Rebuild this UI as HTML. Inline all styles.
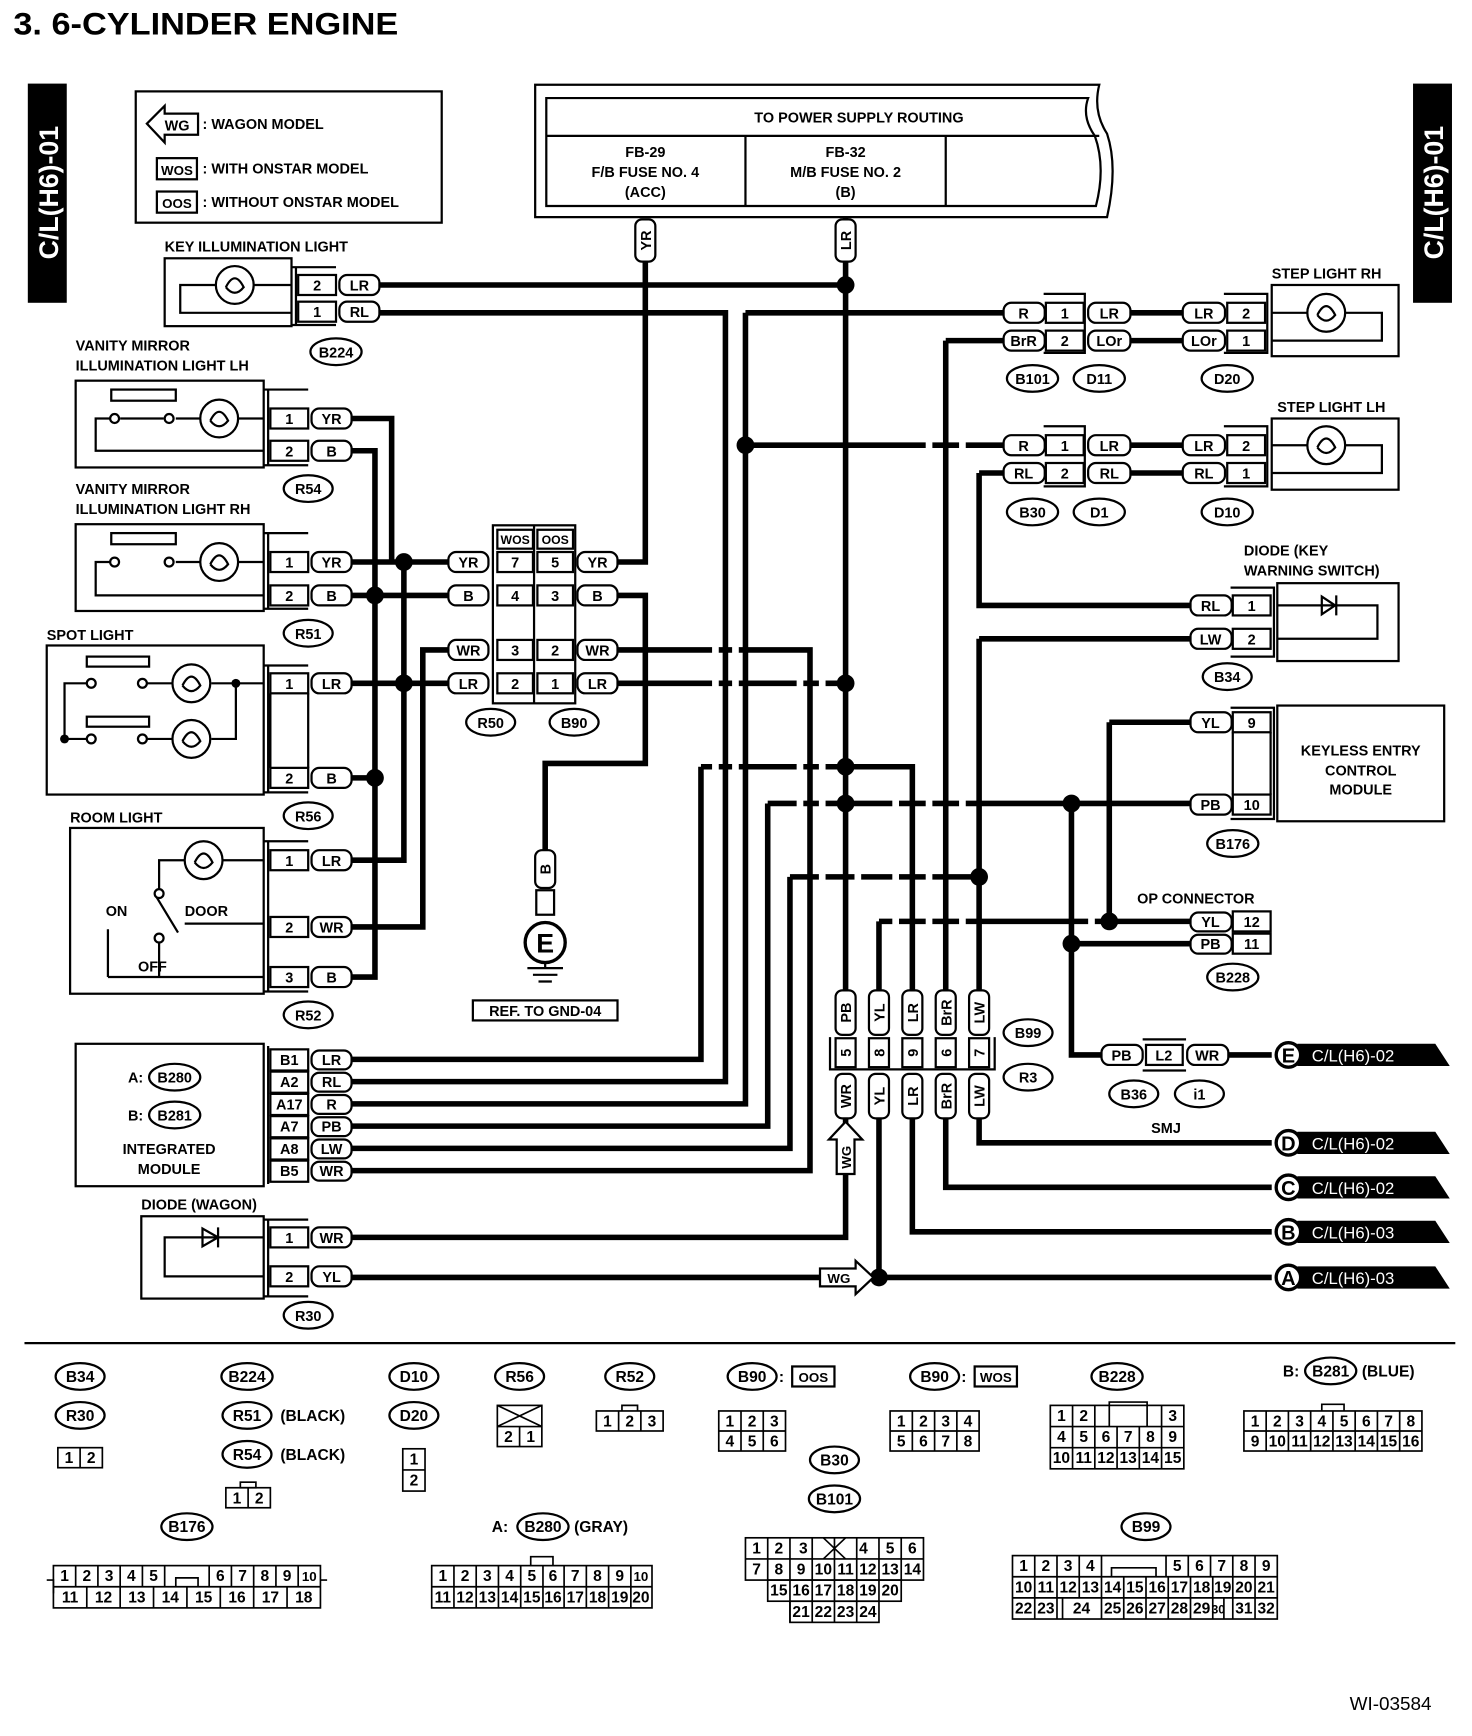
<!DOCTYPE html>
<html><head><meta charset="utf-8"><style>
html,body{margin:0;padding:0;background:#fff}
svg{display:block}
text{font-family:"Liberation Sans",Arial,sans-serif;font-weight:bold;font-size:14px;fill:#000}
.w{fill:none;stroke:#000;stroke-width:5}
.b{fill:#fff;stroke:#000;stroke-width:2}
.n{fill:none;stroke:#000;stroke-width:2}
.g{fill:none;stroke:#000;stroke-width:1.5}
.s{font-size:13px}
.m{text-anchor:middle}
.wt{fill:#fff}
</style></head><body>
<svg width="1472" height="1736" viewBox="0 0 1323 1560" xmlns="http://www.w3.org/2000/svg">
<text x="12" y="31" style="font-size:28px" textLength="346" lengthAdjust="spacingAndGlyphs">3.  6-CYLINDER ENGINE</text>
<!-- side tabs -->
<rect x="25" y="75" width="35" height="197" fill="#000"/>
<text transform="translate(52,173) rotate(-90)" class="m wt" style="font-size:24px">C/L(H6)-01</text>
<rect x="1270" y="75" width="35" height="197" fill="#000"/>
<text transform="translate(1297,173) rotate(-90)" class="m wt" style="font-size:24px">C/L(H6)-01</text>
<!-- legend -->
<rect x="122" y="82" width="275" height="118" class="n"/>
<path d="M132,111 L148,95 V102 H178 V121 H148 V128 Z" class="b"/>
<text x="148" y="117" class="s">WG</text><text x="182" y="116" class="s">: WAGON MODEL</text>
<rect x="141" y="142" width="36" height="19" class="b"/><text x="159" y="157" class="m" style="font-size:12px">WOS</text>
<text x="182" y="156" class="s">: WITH ONSTAR MODEL</text>
<rect x="141" y="172" width="36" height="19" class="b"/><text x="159" y="187" class="m" style="font-size:12px">OOS</text>
<text x="182" y="186" class="s">: WITHOUT ONSTAR MODEL</text>
<!-- power box -->
<path d="M481,76 H988 Q982,100 995,120 Q1005,150 995,195 H481 Z" class="n"/>
<path d="M491,88 H978 Q972,105 984,122 Q994,150 985,185 H491 Z" class="n"/>
<line x1="491" y1="122" x2="988" y2="122" class="n"/>
<line x1="670" y1="122" x2="670" y2="185" class="n"/><line x1="850" y1="122" x2="850" y2="185" class="n"/>
<text x="772" y="110" class="m s">TO POWER SUPPLY ROUTING</text>
<text x="580" y="141" class="m s">FB-29</text><text x="580" y="159" class="m s">F/B FUSE NO. 4</text><text x="580" y="177" class="m s">(ACC)</text>
<text x="760" y="141" class="m s">FB-32</text><text x="760" y="159" class="m s">M/B FUSE NO. 2</text><text x="760" y="177" class="m s">(B)</text>

<!-- WIRES -->
<g class="w">
<path d="M340,256 H760"/><path d="M760,195 V892"/>
<path d="M340,281 H652 V972 H315"/>
<path d="M670,281 H905"/><path d="M670,281 V992 H315"/><path d="M670,400 H905"/>
<path d="M850,306 H905"/><path d="M850,306 V892"/>
<path d="M880,425 H905"/><path d="M880,425 V544 H1072"/>
<path d="M880,574 H1072"/><path d="M880,574 V892"/>
<path d="M315,376 H352 V505"/><path d="M315,505 H403"/><path d="M363,505 V773 H315"/>
<path d="M315,405 H337 V878 H315"/><path d="M315,535 H403"/><path d="M315,699 H337"/>
<path d="M315,614 H403"/><path d="M315,833 H380 V584 H403"/>
<path d="M554,505 H580 V197"/><path d="M554,535 H580 V686 H490 V764"/>
<path d="M554,584 H728 V1052 H315"/><path d="M554,614 H760"/>
<path d="M630,689 H820 V892"/><path d="M630,689 V952 H315"/>
<path d="M690,722 H1072"/><path d="M690,722 V1012 H315"/>
<path d="M710,788 H880"/><path d="M710,788 V1032 H315"/>
<path d="M790,828 H1072"/><path d="M790,828 V892"/>
<path d="M997,649 H1072"/><path d="M997,649 V828"/>
<path d="M963,722 V948 H990"/><path d="M963,848 H1072"/>
<path d="M760,1005 V1112 H315"/><path d="M790,1005 V1148"/><path d="M315,1148 H1143"/>
<path d="M820,1005 V1107 H1143"/><path d="M850,1005 V1067 H1143"/><path d="M880,1005 V1027 H1143"/>
<path d="M1104,948 H1143"/>
<path d="M1014,281 H1063"/><path d="M1014,306 H1063"/><path d="M1014,400 H1063"/><path d="M1014,425 H1063"/>
</g>
<!-- crossing gaps -->
<g fill="#fff">
<rect x="640" y="580" width="6" height="8"/><rect x="658" y="580" width="6" height="8"/>
<rect x="640" y="610" width="6" height="8"/><rect x="658" y="610" width="6" height="8"/><rect x="716" y="610" width="6" height="8"/><rect x="736" y="610" width="6" height="8"/>
<rect x="640" y="685" width="6" height="8"/><rect x="658" y="685" width="6" height="8"/><rect x="716" y="685" width="6" height="8"/><rect x="736" y="685" width="6" height="8"/>
<rect x="716" y="718" width="6" height="8"/><rect x="736" y="718" width="6" height="8"/><rect x="802" y="718" width="6" height="8"/><rect x="832" y="718" width="6" height="8"/><rect x="862" y="718" width="6" height="8"/>
<rect x="736" y="784" width="6" height="8"/><rect x="768" y="784" width="6" height="8"/><rect x="802" y="784" width="6" height="8"/><rect x="832" y="784" width="6" height="8"/>
<rect x="802" y="824" width="6" height="8"/><rect x="832" y="824" width="6" height="8"/><rect x="862" y="824" width="6" height="8"/><rect x="978" y="824" width="6" height="8"/>
<rect x="832" y="396" width="6" height="8"/><rect x="862" y="396" width="6" height="8"/>
</g>
<g fill="#000">
<circle cx="760" cy="256" r="8"/><circle cx="363" cy="505" r="8"/><circle cx="337" cy="535" r="8"/><circle cx="363" cy="614" r="8"/><circle cx="337" cy="699" r="8"/>
<circle cx="760" cy="614" r="8"/><circle cx="760" cy="689" r="8"/><circle cx="760" cy="722" r="8"/><circle cx="670" cy="400" r="8"/><circle cx="880" cy="788" r="8"/>
<circle cx="963" cy="722" r="8"/><circle cx="963" cy="848" r="8"/><circle cx="997" cy="828" r="8"/><circle cx="790" cy="1148" r="8"/>
</g>
<!-- vertical tags YR / LR -->
<rect x="571" y="197" width="18" height="38" rx="6" class="b"/><text transform="translate(585,216) rotate(-90)" class="m s">YR</text>
<rect x="751" y="197" width="18" height="38" rx="6" class="b"/><text transform="translate(765,216) rotate(-90)" class="m s">LR</text>

<!-- KEY ILLUMINATION -->
<text x="148" y="226" class="s">KEY ILLUMINATION LIGHT</text>
<rect x="148" y="232" width="114" height="61" class="n"/>
<path d="M262,256 H162 V281 H262" class="n"/><circle cx="211" cy="256" r="17" class="b"/><path d="M203,258 q8,-16 16,0 q-8,10 -16,0" class="n"/>
<path d="M262,240 H302 M262,292 H302 M266,240 V292" class="n"/>
<rect x="268" y="247" width="34" height="18" class="b"/><text x="285" y="261" class="m s">2</text>
<rect x="268" y="271" width="34" height="18" class="b"/><text x="285" y="285" class="m s">1</text>
<rect x="305" y="247" width="36" height="18" rx="7" class="b"/><text x="323" y="261" class="m s">LR</text>
<rect x="305" y="271" width="36" height="18" rx="7" class="b"/><text x="323" y="285" class="m s">RL</text>
<ellipse cx="302" cy="316" rx="23" ry="12" class="b"/><text x="302" y="321" class="m s">B224</text>

<!-- VANITY LH -->
<text x="68" y="315" class="s">VANITY MIRROR</text><text x="68" y="333" class="s">ILLUMINATION LIGHT LH</text>
<rect x="68" y="342" width="169" height="78" class="n"/>
<rect x="100" y="350" width="58" height="10" class="n"/>
<path d="M237,376 H214 M180,376 H158 M147,376 L108,376 M102,376 H86 V405 H237" class="n"/>
<circle cx="103" cy="376" r="4" class="b"/><circle cx="152" cy="376" r="4" class="b"/>
<circle cx="197" cy="376" r="17" class="b"/><path d="M189,378 q8,-16 16,0 q-8,10 -16,0" class="n"/>
<path d="M237,350 H277 M237,418 H277 M241,350 V418" class="n"/>
<rect x="243" y="367" width="34" height="18" class="b"/><text x="260" y="381" class="m s">1</text>
<rect x="243" y="396" width="34" height="18" class="b"/><text x="260" y="410" class="m s">2</text>
<rect x="280" y="367" width="36" height="18" rx="7" class="b"/><text x="298" y="381" class="m s">YR</text>
<rect x="280" y="396" width="36" height="18" rx="7" class="b"/><text x="298" y="410" class="m s">B</text>
<ellipse cx="277" cy="439" rx="22" ry="12" class="b"/><text x="277" y="444" class="m s">R54</text>

<!-- VANITY RH -->
<text x="68" y="444" class="s">VANITY MIRROR</text><text x="68" y="462" class="s">ILLUMINATION LIGHT RH</text>
<rect x="68" y="471" width="169" height="78" class="n"/>
<rect x="100" y="479" width="58" height="10" class="n"/>
<path d="M237,505 H214 M180,505 H158 M102,505 H86 V535 H237" class="n"/>
<circle cx="103" cy="505" r="4" class="b"/><circle cx="152" cy="505" r="4" class="b"/>
<circle cx="197" cy="505" r="17" class="b"/><path d="M189,507 q8,-16 16,0 q-8,10 -16,0" class="n"/>
<path d="M237,479 H277 M237,547 H277 M241,479 V547" class="n"/>
<rect x="243" y="496" width="34" height="18" class="b"/><text x="260" y="510" class="m s">1</text>
<rect x="243" y="526" width="34" height="18" class="b"/><text x="260" y="540" class="m s">2</text>
<rect x="280" y="496" width="36" height="18" rx="7" class="b"/><text x="298" y="510" class="m s">YR</text>
<rect x="280" y="526" width="36" height="18" rx="7" class="b"/><text x="298" y="540" class="m s">B</text>
<ellipse cx="277" cy="569" rx="22" ry="12" class="b"/><text x="277" y="574" class="m s">R51</text>

<!-- SPOT LIGHT -->
<text x="42" y="575" class="s">SPOT LIGHT</text>
<rect x="42" y="580" width="195" height="134" class="n"/>
<rect x="78" y="590" width="56" height="9" class="n"/><rect x="78" y="644" width="56" height="9" class="n"/>
<path d="M237,614 H212 V664 H190 M155,664 H132 M82,614 H58 V664 H82 M155,614 H132 M190,614 H237" class="n"/>
<circle cx="82" cy="614" r="4" class="b"/><circle cx="128" cy="614" r="4" class="b"/><circle cx="82" cy="664" r="4" class="b"/><circle cx="128" cy="664" r="4" class="b"/>
<circle cx="58" cy="664" r="4" fill="#000"/><circle cx="212" cy="614" r="4" fill="#000"/>
<circle cx="172" cy="614" r="17" class="b"/><path d="M164,616 q8,-16 16,0 q-8,10 -16,0" class="n"/>
<circle cx="172" cy="664" r="17" class="b"/><path d="M164,666 q8,-16 16,0 q-8,10 -16,0" class="n"/>
<path d="M237,598 H277 M237,712 H277 M241,598 V712 M243,623 V690 M277,623 V690" class="n"/>
<rect x="243" y="605" width="34" height="18" class="b"/><text x="260" y="619" class="m s">1</text>
<rect x="243" y="690" width="34" height="18" class="b"/><text x="260" y="704" class="m s">2</text>
<rect x="280" y="605" width="36" height="18" rx="7" class="b"/><text x="298" y="619" class="m s">LR</text>
<rect x="280" y="690" width="36" height="18" rx="7" class="b"/><text x="298" y="704" class="m s">B</text>
<ellipse cx="277" cy="733" rx="22" ry="12" class="b"/><text x="277" y="738" class="m s">R56</text>

<!-- ROOM LIGHT -->
<text x="63" y="739" class="s">ROOM LIGHT</text>
<rect x="63" y="744" width="174" height="149" class="n"/>
<path d="M237,773 H200 M166,773 H143 V800 M140,805 L160,838 M166,830 H237 M143,842 V878 M97,878 H237 M97,878 V835" class="n"/>
<circle cx="143" cy="803" r="4" class="b"/><circle cx="143" cy="843" r="4" class="b"/>
<circle cx="183" cy="773" r="17" class="b"/><path d="M175,775 q8,-16 16,0 q-8,10 -16,0" class="n"/>
<text x="95" y="823" class="s">ON</text><text x="166" y="823" class="s">DOOR</text><text x="124" y="873" class="s">OFF</text>
<path d="M237,756 H277 M237,891 H277 M241,756 V891" class="n"/>
<rect x="243" y="764" width="34" height="18" class="b"/><text x="260" y="778" class="m s">1</text>
<rect x="243" y="824" width="34" height="18" class="b"/><text x="260" y="838" class="m s">2</text>
<rect x="243" y="869" width="34" height="18" class="b"/><text x="260" y="883" class="m s">3</text>
<rect x="280" y="764" width="36" height="18" rx="7" class="b"/><text x="298" y="778" class="m s">LR</text>
<rect x="280" y="824" width="36" height="18" rx="7" class="b"/><text x="298" y="838" class="m s">WR</text>
<rect x="280" y="869" width="36" height="18" rx="7" class="b"/><text x="298" y="883" class="m s">B</text>
<ellipse cx="277" cy="912" rx="22" ry="12" class="b"/><text x="277" y="917" class="m s">R52</text>

<!-- INTEGRATED MODULE -->
<rect x="68" y="938" width="169" height="128" class="n"/>
<text x="115" y="973" class="s">A:</text><ellipse cx="157" cy="968" rx="23" ry="12" class="b"/><text x="157" y="973" class="m s">B280</text>
<text x="115" y="1007" class="s">B:</text><ellipse cx="157" cy="1002" rx="23" ry="12" class="b"/><text x="157" y="1007" class="m s">B281</text>
<text x="152" y="1037" class="m s">INTEGRATED</text><text x="152" y="1055" class="m s">MODULE</text>
<path d="M241,940 V1064" class="n"/>
<g>
<rect x="243" y="943" width="34" height="19" class="b"/><text x="260" y="957" class="m s">B1</text>
<rect x="243" y="963" width="34" height="19" class="b"/><text x="260" y="977" class="m s">A2</text>
<rect x="243" y="983" width="34" height="19" class="b"/><text x="260" y="997" class="m s">A17</text>
<rect x="243" y="1003" width="34" height="19" class="b"/><text x="260" y="1017" class="m s">A7</text>
<rect x="243" y="1023" width="34" height="19" class="b"/><text x="260" y="1037" class="m s">A8</text>
<rect x="243" y="1043" width="34" height="19" class="b"/><text x="260" y="1057" class="m s">B5</text>
<rect x="280" y="944" width="36" height="17" rx="7" class="b"/><text x="298" y="957" class="m s">LR</text>
<rect x="280" y="964" width="36" height="17" rx="7" class="b"/><text x="298" y="977" class="m s">RL</text>
<rect x="280" y="984" width="36" height="17" rx="7" class="b"/><text x="298" y="997" class="m s">R</text>
<rect x="280" y="1004" width="36" height="17" rx="7" class="b"/><text x="298" y="1017" class="m s">PB</text>
<rect x="280" y="1024" width="36" height="17" rx="7" class="b"/><text x="298" y="1037" class="m s">LW</text>
<rect x="280" y="1044" width="36" height="17" rx="7" class="b"/><text x="298" y="1057" class="m s">WR</text>
</g>

<!-- DIODE WAGON -->
<text x="127" y="1087" class="s">DIODE (WAGON)</text>
<rect x="127" y="1093" width="110" height="74" class="n"/>
<path d="M237,1112 H148 V1147 H237" class="n"/><path d="M196,1103 V1121 M196,1112 L182,1104 V1120 Z" fill="#000" class="n"/>
<path d="M237,1096 H277 M237,1165 H277 M241,1096 V1165" class="n"/>
<rect x="243" y="1103" width="34" height="18" class="b"/><text x="260" y="1117" class="m s">1</text>
<rect x="243" y="1138" width="34" height="18" class="b"/><text x="260" y="1152" class="m s">2</text>
<rect x="280" y="1103" width="36" height="18" rx="7" class="b"/><text x="298" y="1117" class="m s">WR</text>
<rect x="280" y="1138" width="36" height="18" rx="7" class="b"/><text x="298" y="1152" class="m s">YL</text>
<ellipse cx="277" cy="1182" rx="22" ry="12" class="b"/><text x="277" y="1187" class="m s">R30</text>

<!-- B90/R50 -->
<rect x="443" y="472" width="74" height="160" class="n"/>
<line x1="480" y1="472" x2="480" y2="632" class="n"/>
<rect x="447" y="476" width="32" height="17" class="b"/><text x="463" y="489" class="m" style="font-size:11px">WOS</text>
<rect x="483" y="476" width="32" height="17" class="b"/><text x="499" y="489" class="m" style="font-size:11px">OOS</text>
<rect x="447" y="496" width="32" height="18" class="b"/><text x="463" y="510" class="m s">7</text>
<rect x="483" y="496" width="32" height="18" class="b"/><text x="499" y="510" class="m s">5</text>
<rect x="447" y="526" width="32" height="18" class="b"/><text x="463" y="540" class="m s">4</text>
<rect x="483" y="526" width="32" height="18" class="b"/><text x="499" y="540" class="m s">3</text>
<rect x="447" y="575" width="32" height="18" class="b"/><text x="463" y="589" class="m s">3</text>
<rect x="483" y="575" width="32" height="18" class="b"/><text x="499" y="589" class="m s">2</text>
<rect x="447" y="605" width="32" height="18" class="b"/><text x="463" y="619" class="m s">2</text>
<rect x="483" y="605" width="32" height="18" class="b"/><text x="499" y="619" class="m s">1</text>
<rect x="403" y="496" width="36" height="18" rx="7" class="b"/><text x="421" y="510" class="m s">YR</text>
<rect x="403" y="526" width="36" height="18" rx="7" class="b"/><text x="421" y="540" class="m s">B</text>
<rect x="403" y="575" width="36" height="18" rx="7" class="b"/><text x="421" y="589" class="m s">WR</text>
<rect x="403" y="605" width="36" height="18" rx="7" class="b"/><text x="421" y="619" class="m s">LR</text>
<rect x="519" y="496" width="36" height="18" rx="7" class="b"/><text x="537" y="510" class="m s">YR</text>
<rect x="519" y="526" width="36" height="18" rx="7" class="b"/><text x="537" y="540" class="m s">B</text>
<rect x="519" y="575" width="36" height="18" rx="7" class="b"/><text x="537" y="589" class="m s">WR</text>
<rect x="519" y="605" width="36" height="18" rx="7" class="b"/><text x="537" y="619" class="m s">LR</text>
<ellipse cx="441" cy="649" rx="22" ry="12" class="b"/><text x="441" y="654" class="m s">R50</text>
<ellipse cx="516" cy="649" rx="22" ry="12" class="b"/><text x="516" y="654" class="m s">B90</text>

<!-- ground -->
<rect x="481" y="764" width="18" height="34" rx="6" class="b"/><text transform="translate(495,781) rotate(-90)" class="m s">B</text>
<rect x="482" y="800" width="16" height="22" class="b"/>
<circle cx="490" cy="847" r="18" class="b" style="stroke-width:3"/><text x="490" y="856" class="m" style="font-size:24px">E</text>
<path d="M490,865 V870 M474,870 H506 M479,876 H501 M484,882 H496" class="n"/>
<rect x="425" y="899" width="130" height="18" class="b"/><text x="490" y="913" class="m s">REF. TO GND-04</text>

<!-- B99 / R3 -->
<g>
<rect x="751" y="890" width="18" height="40" rx="6" class="b"/><text transform="translate(765,910) rotate(-90)" class="m s">PB</text>
<rect x="781" y="890" width="18" height="40" rx="6" class="b"/><text transform="translate(795,910) rotate(-90)" class="m s">YL</text>
<rect x="811" y="890" width="18" height="40" rx="6" class="b"/><text transform="translate(825,910) rotate(-90)" class="m s">LR</text>
<rect x="841" y="890" width="18" height="40" rx="6" class="b"/><text transform="translate(855,910) rotate(-90)" class="m s">BrR</text>
<rect x="871" y="890" width="18" height="40" rx="6" class="b"/><text transform="translate(885,910) rotate(-90)" class="m s">LW</text>
<path d="M746,932 V961 H894 V932" class="n"/>
<rect x="751" y="933" width="18" height="26" class="b"/><text transform="translate(765,946) rotate(-90)" class="m s">5</text>
<rect x="781" y="933" width="18" height="26" class="b"/><text transform="translate(795,946) rotate(-90)" class="m s">8</text>
<rect x="811" y="933" width="18" height="26" class="b"/><text transform="translate(825,946) rotate(-90)" class="m s">9</text>
<rect x="841" y="933" width="18" height="26" class="b"/><text transform="translate(855,946) rotate(-90)" class="m s">6</text>
<rect x="871" y="933" width="18" height="26" class="b"/><text transform="translate(885,946) rotate(-90)" class="m s">7</text>
<rect x="751" y="965" width="18" height="40" rx="6" class="b"/><text transform="translate(765,985) rotate(-90)" class="m s">WR</text>
<rect x="781" y="965" width="18" height="40" rx="6" class="b"/><text transform="translate(795,985) rotate(-90)" class="m s">YL</text>
<rect x="811" y="965" width="18" height="40" rx="6" class="b"/><text transform="translate(825,985) rotate(-90)" class="m s">LR</text>
<rect x="841" y="965" width="18" height="40" rx="6" class="b"/><text transform="translate(855,985) rotate(-90)" class="m s">BrR</text>
<rect x="871" y="965" width="18" height="40" rx="6" class="b"/><text transform="translate(885,985) rotate(-90)" class="m s">LW</text>
</g>
<ellipse cx="924" cy="928" rx="22" ry="12" class="b"/><text x="924" y="933" class="m s">B99</text>
<ellipse cx="924" cy="968" rx="22" ry="12" class="b"/><text x="924" y="973" class="m s">R3</text>
<path d="M760,1008 L775,1024 H768 V1055 H752 V1024 H745 Z" class="b"/><text transform="translate(765,1040) rotate(-90)" class="m" style="font-size:12px">WG</text>
<path d="M785,1148 L769,1133 V1140 H737 V1156 H769 V1163 Z" class="b"/><text x="754" y="1153" class="m" style="font-size:12px">WG</text>

<!-- STEP LIGHT RH -->
<text x="1143" y="250" class="s">STEP LIGHT RH</text>
<rect x="1143" y="256" width="114" height="64" class="n"/>
<path d="M1143,281 H1242 V306 H1143" class="n"/><circle cx="1192" cy="281" r="17" class="b"/><path d="M1184,283 q8,-16 16,0 q-8,10 -16,0" class="n"/>
<path d="M1100,264 H1140 M1100,317 H1140 M1139,264 V317" class="n"/>
<rect x="1103" y="272" width="34" height="18" class="b"/><text x="1120" y="286" class="m s">2</text>
<rect x="1103" y="297" width="34" height="18" class="b"/><text x="1120" y="311" class="m s">1</text>
<rect x="1063" y="272" width="38" height="18" rx="7" class="b"/><text x="1082" y="286" class="m s">LR</text>
<rect x="1063" y="297" width="38" height="18" rx="7" class="b"/><text x="1082" y="311" class="m s">LOr</text>
<path d="M938,264 H976 M938,317 H976 M975,264 V317" class="n"/>
<rect x="940" y="272" width="34" height="18" class="b"/><text x="957" y="286" class="m s">1</text>
<rect x="940" y="297" width="34" height="18" class="b"/><text x="957" y="311" class="m s">2</text>
<rect x="902" y="272" width="37" height="18" rx="7" class="b"/><text x="920" y="286" class="m s">R</text>
<rect x="902" y="297" width="37" height="18" rx="7" class="b"/><text x="920" y="311" class="m s">BrR</text>
<rect x="978" y="272" width="38" height="18" rx="7" class="b"/><text x="997" y="286" class="m s">LR</text>
<rect x="978" y="297" width="38" height="18" rx="7" class="b"/><text x="997" y="311" class="m s">LOr</text>
<ellipse cx="928" cy="340" rx="23" ry="12" class="b"/><text x="928" y="345" class="m s">B101</text>
<ellipse cx="988" cy="340" rx="23" ry="12" class="b"/><text x="988" y="345" class="m s">D11</text>
<ellipse cx="1103" cy="340" rx="23" ry="12" class="b"/><text x="1103" y="345" class="m s">D20</text>

<!-- STEP LIGHT LH -->
<text x="1148" y="370" class="s">STEP LIGHT LH</text>
<rect x="1143" y="376" width="114" height="64" class="n"/>
<path d="M1143,400 H1242 V425 H1143" class="n"/><circle cx="1192" cy="400" r="17" class="b"/><path d="M1184,402 q8,-16 16,0 q-8,10 -16,0" class="n"/>
<path d="M1100,383 H1140 M1100,437 H1140 M1139,383 V437" class="n"/>
<rect x="1103" y="391" width="34" height="18" class="b"/><text x="1120" y="405" class="m s">2</text>
<rect x="1103" y="416" width="34" height="18" class="b"/><text x="1120" y="430" class="m s">1</text>
<rect x="1063" y="391" width="38" height="18" rx="7" class="b"/><text x="1082" y="405" class="m s">LR</text>
<rect x="1063" y="416" width="38" height="18" rx="7" class="b"/><text x="1082" y="430" class="m s">RL</text>
<path d="M938,383 H976 M938,437 H976 M975,383 V437" class="n"/>
<rect x="940" y="391" width="34" height="18" class="b"/><text x="957" y="405" class="m s">1</text>
<rect x="940" y="416" width="34" height="18" class="b"/><text x="957" y="430" class="m s">2</text>
<rect x="902" y="391" width="37" height="18" rx="7" class="b"/><text x="920" y="405" class="m s">R</text>
<rect x="902" y="416" width="37" height="18" rx="7" class="b"/><text x="920" y="430" class="m s">RL</text>
<rect x="978" y="391" width="38" height="18" rx="7" class="b"/><text x="997" y="405" class="m s">LR</text>
<rect x="978" y="416" width="38" height="18" rx="7" class="b"/><text x="997" y="430" class="m s">RL</text>
<ellipse cx="928" cy="460" rx="23" ry="12" class="b"/><text x="928" y="465" class="m s">B30</text>
<ellipse cx="988" cy="460" rx="23" ry="12" class="b"/><text x="988" y="465" class="m s">D1</text>
<ellipse cx="1103" cy="460" rx="23" ry="12" class="b"/><text x="1103" y="465" class="m s">D10</text>

<!-- DIODE KEY -->
<text x="1118" y="499" class="s">DIODE (KEY</text><text x="1118" y="517" class="s">WARNING SWITCH)</text>
<rect x="1148" y="524" width="109" height="70" class="n"/>
<path d="M1148,544 H1238 V574 H1148" class="n"/><path d="M1188,536 L1200,544 L1188,552 Z M1201,535 V553" fill="#000" class="n"/>
<path d="M1106,528 H1146 M1106,590 H1146 M1145,528 V590" class="n"/>
<rect x="1108" y="535" width="34" height="18" class="b"/><text x="1125" y="549" class="m s">1</text>
<rect x="1108" y="565" width="34" height="18" class="b"/><text x="1125" y="579" class="m s">2</text>
<rect x="1070" y="535" width="37" height="18" rx="7" class="b"/><text x="1088" y="549" class="m s">RL</text>
<rect x="1070" y="565" width="37" height="18" rx="7" class="b"/><text x="1088" y="579" class="m s">LW</text>
<ellipse cx="1103" cy="608" rx="22" ry="12" class="b"/><text x="1103" y="613" class="m s">B34</text>

<!-- KEYLESS -->
<rect x="1148" y="634" width="150" height="104" class="n"/>
<text x="1223" y="679" class="m s">KEYLESS ENTRY</text><text x="1223" y="697" class="m s">CONTROL</text><text x="1223" y="714" class="m s">MODULE</text>
<path d="M1106,636 H1146 M1106,736 H1146 M1145,636 V736 M1108,658 V714 M1142,658 V714" class="n"/>
<rect x="1108" y="640" width="34" height="18" class="b"/><text x="1125" y="654" class="m s">9</text>
<rect x="1108" y="714" width="34" height="18" class="b"/><text x="1125" y="728" class="m s">10</text>
<rect x="1070" y="640" width="37" height="18" rx="7" class="b"/><text x="1088" y="654" class="m s">YL</text>
<rect x="1070" y="714" width="37" height="18" rx="7" class="b"/><text x="1088" y="728" class="m s">PB</text>
<ellipse cx="1108" cy="758" rx="23" ry="12" class="b"/><text x="1108" y="763" class="m s">B176</text>

<!-- OP connector -->
<text x="1022" y="812" class="s">OP CONNECTOR</text>
<rect x="1108" y="819" width="34" height="18" class="b"/><text x="1125" y="833" class="m s">12</text>
<rect x="1108" y="839" width="34" height="18" class="b"/><text x="1125" y="853" class="m s">11</text>
<rect x="1070" y="820" width="37" height="17" rx="7" class="b"/><text x="1088" y="833" class="m s">YL</text>
<rect x="1070" y="840" width="37" height="17" rx="7" class="b"/><text x="1088" y="853" class="m s">PB</text>
<ellipse cx="1108" cy="878" rx="23" ry="12" class="b"/><text x="1108" y="883" class="m s">B228</text>

<!-- SMJ -->
<rect x="990" y="939" width="37" height="18" rx="7" class="b"/><text x="1008" y="953" class="m s">PB</text>
<path d="M1027,934 H1066 M1027,962 H1066" class="n"/>
<rect x="1030" y="939" width="33" height="18" class="b"/><text x="1046" y="953" class="m s">L2</text>
<rect x="1067" y="939" width="37" height="18" rx="7" class="b"/><text x="1085" y="953" class="m s">WR</text>
<ellipse cx="1019" cy="983" rx="22" ry="12" class="b"/><text x="1019" y="988" class="m s">B36</text>
<ellipse cx="1078" cy="983" rx="22" ry="12" class="b"/><text x="1078" y="988" class="m s">i1</text>
<text x="1048" y="1018" class="m s">SMJ</text>

<!-- output arrows -->
<g>
<path d="M1166,938 H1290 L1303,958 H1166 Z" fill="#000"/><circle cx="1158" cy="948" r="11" class="b" style="stroke-width:3"/><text x="1158" y="955" class="m" style="font-size:18px">E</text><text x="1179" y="954" class="wt" style="font-size:15px;font-weight:normal">C/L(H6)-02</text>
<path d="M1166,1017 H1290 L1303,1037 H1166 Z" fill="#000"/><circle cx="1158" cy="1027" r="11" class="b" style="stroke-width:3"/><text x="1158" y="1034" class="m" style="font-size:18px">D</text><text x="1179" y="1033" class="wt" style="font-size:15px;font-weight:normal">C/L(H6)-02</text>
<path d="M1166,1057 H1290 L1303,1077 H1166 Z" fill="#000"/><circle cx="1158" cy="1067" r="11" class="b" style="stroke-width:3"/><text x="1158" y="1074" class="m" style="font-size:18px">C</text><text x="1179" y="1073" class="wt" style="font-size:15px;font-weight:normal">C/L(H6)-02</text>
<path d="M1166,1097 H1290 L1303,1117 H1166 Z" fill="#000"/><circle cx="1158" cy="1107" r="11" class="b" style="stroke-width:3"/><text x="1158" y="1114" class="m" style="font-size:18px">B</text><text x="1179" y="1113" class="wt" style="font-size:15px;font-weight:normal">C/L(H6)-03</text>
<path d="M1166,1138 H1290 L1303,1158 H1166 Z" fill="#000"/><circle cx="1158" cy="1148" r="11" class="b" style="stroke-width:3"/><text x="1158" y="1155" class="m" style="font-size:18px">A</text><text x="1179" y="1154" class="wt" style="font-size:15px;font-weight:normal">C/L(H6)-03</text>
</g>

<line x1="22" y1="1207" x2="1308" y2="1207" stroke="#000" stroke-width="2"/>

<!-- CONNECTOR VIEWS -->
<g class="s">
<ellipse cx="72" cy="1237" rx="22" ry="12" class="b"/><text x="72" y="1242" class="m">B34</text>
<ellipse cx="72" cy="1272" rx="22" ry="12" class="b"/><text x="72" y="1277" class="m">R30</text>
<rect x="52" y="1301" width="40" height="18" class="g"/><line x1="72" y1="1301" x2="72" y2="1319" class="g"/><text x="62" y="1315" class="m">1</text><text x="82" y="1315" class="m">2</text>

<ellipse cx="222" cy="1237" rx="23" ry="12" class="b"/><text x="222" y="1242" class="m">B224</text>
<ellipse cx="222" cy="1272" rx="22" ry="12" class="b"/><text x="222" y="1277" class="m">R51</text><text x="252" y="1277">(BLACK)</text>
<ellipse cx="222" cy="1307" rx="22" ry="12" class="b"/><text x="222" y="1312" class="m">R54</text><text x="252" y="1312">(BLACK)</text>
<rect x="203" y="1337" width="40" height="18" class="g"/><line x1="223" y1="1337" x2="223" y2="1355" class="g"/><rect x="216" y="1332" width="14" height="5" class="g"/><text x="213" y="1351" class="m">1</text><text x="233" y="1351" class="m">2</text>

<ellipse cx="372" cy="1237" rx="22" ry="12" class="b"/><text x="372" y="1242" class="m">D10</text>
<ellipse cx="372" cy="1272" rx="22" ry="12" class="b"/><text x="372" y="1277" class="m">D20</text>
<rect x="362" y="1302" width="20" height="38" class="g"/><line x1="362" y1="1321" x2="382" y2="1321" class="g"/><text x="372" y="1316" class="m">1</text><text x="372" y="1335" class="m">2</text>

<ellipse cx="467" cy="1237" rx="22" ry="12" class="b"/><text x="467" y="1242" class="m">R56</text>
<rect x="447" y="1263" width="40" height="37" class="g"/><path d="M447,1282 H487 M467,1282 V1300 M447,1263 L487,1282 M487,1263 L447,1282" class="g"/><text x="457" y="1296" class="m">2</text><text x="477" y="1296" class="m">1</text>

<ellipse cx="566" cy="1237" rx="22" ry="12" class="b"/><text x="566" y="1242" class="m">R52</text>
<rect x="536" y="1268" width="60" height="18" class="g"/><path d="M556,1268 V1286 M576,1268 V1286 M559,1268 V1263 H573 V1268" class="g"/><text x="546" y="1282" class="m">1</text><text x="566" y="1282" class="m">2</text><text x="586" y="1282" class="m">3</text>

<ellipse cx="676" cy="1237" rx="22" ry="12" class="b"/><text x="676" y="1242" class="m">B90</text><text x="700" y="1242">:</text>
<rect x="712" y="1228" width="38" height="18" class="b"/><text x="731" y="1242" class="m" style="font-size:12px">OOS</text>
<rect x="646" y="1268" width="60" height="36" class="g"/><path d="M646,1286 H706 M666,1268 V1304 M686,1268 V1304" class="g"/>
<text x="656" y="1282" class="m">1</text><text x="676" y="1282" class="m">2</text><text x="696" y="1282" class="m">3</text>
<text x="656" y="1300" class="m">4</text><text x="676" y="1300" class="m">5</text><text x="696" y="1300" class="m">6</text>

<ellipse cx="840" cy="1237" rx="22" ry="12" class="b"/><text x="840" y="1242" class="m">B90</text><text x="864" y="1242">:</text>
<rect x="876" y="1228" width="38" height="18" class="b"/><text x="895" y="1242" class="m" style="font-size:12px">WOS</text>
<rect x="800" y="1268" width="80" height="36" class="g"/><path d="M800,1286 H880 M820,1268 V1304 M840,1268 V1304 M860,1268 V1304" class="g"/>
<text x="810" y="1282" class="m">1</text><text x="830" y="1282" class="m">2</text><text x="850" y="1282" class="m">3</text><text x="870" y="1282" class="m">4</text>
<text x="810" y="1300" class="m">5</text><text x="830" y="1300" class="m">6</text><text x="850" y="1300" class="m">7</text><text x="870" y="1300" class="m">8</text>

<ellipse cx="1004" cy="1237" rx="23" ry="12" class="b"/><text x="1004" y="1242" class="m">B228</text>
<rect x="944" y="1263" width="120" height="57" class="g"/>
<path d="M944,1282 H1064 M944,1301 H1064 M964,1263 V1320 M984,1263 V1320 M1044,1263 V1320 M1004,1282 V1320 M1024,1282 V1320 M997,1282 V1260 H1031 V1282" class="g"/>
<text x="954" y="1277" class="m">1</text><text x="974" y="1277" class="m">2</text><text x="1054" y="1277" class="m">3</text>
<text x="954" y="1296" class="m">4</text><text x="974" y="1296" class="m">5</text><text x="994" y="1296" class="m">6</text><text x="1014" y="1296" class="m">7</text><text x="1034" y="1296" class="m">8</text><text x="1054" y="1296" class="m">9</text>
<g style="font-size:12px"><text x="954" y="1315" class="m">10</text><text x="974" y="1315" class="m">11</text><text x="994" y="1315" class="m">12</text><text x="1014" y="1315" class="m">13</text><text x="1034" y="1315" class="m">14</text><text x="1054" y="1315" class="m">15</text></g>

<text x="1153" y="1237">B:</text><ellipse cx="1196" cy="1232" rx="23" ry="12" class="b"/><text x="1196" y="1237" class="m">B281</text><text x="1224" y="1237">(BLUE)</text>
<rect x="1118" y="1268" width="160" height="36" class="g"/>
<path d="M1118,1286 H1278 M1138,1268 V1304 M1158,1268 V1304 M1178,1268 V1304 M1198,1268 V1304 M1218,1268 V1304 M1238,1268 V1304 M1258,1268 V1304 M1188,1268 V1262 H1208 V1268" class="g"/>
<text x="1128" y="1282" class="m">1</text><text x="1148" y="1282" class="m">2</text><text x="1168" y="1282" class="m">3</text><text x="1188" y="1282" class="m">4</text><text x="1208" y="1282" class="m">5</text><text x="1228" y="1282" class="m">6</text><text x="1248" y="1282" class="m">7</text><text x="1268" y="1282" class="m">8</text>
<g style="font-size:12px"><text x="1128" y="1300" class="m">9</text><text x="1148" y="1300" class="m">10</text><text x="1168" y="1300" class="m">11</text><text x="1188" y="1300" class="m">12</text><text x="1208" y="1300" class="m">13</text><text x="1228" y="1300" class="m">14</text><text x="1248" y="1300" class="m">15</text><text x="1268" y="1300" class="m">16</text></g>

<!-- B176 -->
<ellipse cx="168" cy="1372" rx="23" ry="12" class="b"/><text x="168" y="1377" class="m">B176</text>
<rect x="48" y="1407" width="240" height="38" class="g"/>
<path d="M48,1426 H288 M68,1407 V1426 M88,1407 V1426 M108,1407 V1426 M128,1407 V1426 M148,1407 V1426 M188,1407 V1426 M208,1407 V1426 M228,1407 V1426 M248,1407 V1426 M268,1407 V1426 M78,1426 V1445 M108,1426 V1445 M138,1426 V1445 M168,1426 V1445 M198,1426 V1445 M228,1426 V1445 M258,1426 V1445 M158,1426 V1418 H178 V1426 M42,1420 H48 V1432 M288,1420 H294" class="g"/>
<text x="58" y="1421" class="m">1</text><text x="78" y="1421" class="m">2</text><text x="98" y="1421" class="m">3</text><text x="118" y="1421" class="m">4</text><text x="138" y="1421" class="m">5</text><text x="198" y="1421" class="m">6</text><text x="218" y="1421" class="m">7</text><text x="238" y="1421" class="m">8</text><text x="258" y="1421" class="m">9</text><text x="278" y="1421" class="m" style="font-size:12px">10</text>
<g style="font-size:12px"><text x="63" y="1440" class="m">11</text><text x="93" y="1440" class="m">12</text><text x="123" y="1440" class="m">13</text><text x="153" y="1440" class="m">14</text><text x="183" y="1440" class="m">15</text><text x="213" y="1440" class="m">16</text><text x="243" y="1440" class="m">17</text><text x="273" y="1440" class="m">18</text></g>

<!-- B280 -->
<text x="442" y="1377">A:</text><ellipse cx="488" cy="1372" rx="23" ry="12" class="b"/><text x="488" y="1377" class="m">B280</text><text x="516" y="1377">(GRAY)</text>
<rect x="388" y="1407" width="198" height="38" class="g"/>
<path d="M388,1426 H586 M408,1407 V1445 M428,1407 V1445 M448,1407 V1445 M468,1407 V1445 M488,1407 V1445 M507,1407 V1445 M527,1407 V1445 M547,1407 V1445 M567,1407 V1445 M477,1407 V1399 H497 V1407" class="g"/>
<text x="398" y="1421" class="m">1</text><text x="418" y="1421" class="m">2</text><text x="438" y="1421" class="m">3</text><text x="458" y="1421" class="m">4</text><text x="478" y="1421" class="m">5</text><text x="497" y="1421" class="m">6</text><text x="517" y="1421" class="m">7</text><text x="537" y="1421" class="m">8</text><text x="557" y="1421" class="m">9</text><text x="576" y="1421" class="m" style="font-size:12px">10</text>
<g style="font-size:12px"><text x="398" y="1440" class="m">11</text><text x="418" y="1440" class="m">12</text><text x="438" y="1440" class="m">13</text><text x="458" y="1440" class="m">14</text><text x="478" y="1440" class="m">15</text><text x="497" y="1440" class="m">16</text><text x="517" y="1440" class="m">17</text><text x="537" y="1440" class="m">18</text><text x="557" y="1440" class="m">19</text><text x="576" y="1440" class="m">20</text></g>

<!-- B30/B101 -->
<ellipse cx="750" cy="1312" rx="22" ry="12" class="b"/><text x="750" y="1317" class="m">B30</text>
<ellipse cx="750" cy="1347" rx="23" ry="12" class="b"/><text x="750" y="1352" class="m">B101</text>
<rect x="670" y="1382" width="160" height="38" class="g"/><rect x="690" y="1420" width="120" height="19" class="g"/><rect x="710" y="1439" width="80" height="19" class="g"/>
<path d="M670,1401 H830 M690,1382 V1420 M710,1382 V1458 M730,1382 V1458 M750,1382 V1458 M770,1382 V1458 M790,1382 V1439 M810,1382 V1420 M740,1382 L760,1401 M760,1382 L740,1401" class="g"/>
<text x="680" y="1396" class="m">1</text><text x="700" y="1396" class="m">2</text><text x="722" y="1396" class="m">3</text><text x="776" y="1396" class="m">4</text><text x="800" y="1396" class="m">5</text><text x="820" y="1396" class="m">6</text>
<g style="font-size:12px"><text x="680" y="1415" class="m">7</text><text x="700" y="1415" class="m">8</text><text x="720" y="1415" class="m">9</text><text x="740" y="1415" class="m">10</text><text x="760" y="1415" class="m">11</text><text x="780" y="1415" class="m">12</text><text x="800" y="1415" class="m">13</text><text x="820" y="1415" class="m">14</text>
<text x="700" y="1434" class="m">15</text><text x="720" y="1434" class="m">16</text><text x="740" y="1434" class="m">17</text><text x="760" y="1434" class="m">18</text><text x="780" y="1434" class="m">19</text><text x="800" y="1434" class="m">20</text>
<text x="720" y="1453" class="m">21</text><text x="740" y="1453" class="m">22</text><text x="760" y="1453" class="m">23</text><text x="780" y="1453" class="m">24</text></g>

<!-- B99 -->
<ellipse cx="1030" cy="1372" rx="22" ry="12" class="b"/><text x="1030" y="1377" class="m">B99</text>
<rect x="910" y="1398" width="238" height="57" class="g"/>
<path d="M910,1417 H1148 M910,1436 H1148 M930,1398 V1417 M950,1398 V1417 M970,1398 V1417 M990,1398 V1417 M1048,1398 V1417 M1068,1398 V1417 M1088,1398 V1417 M1108,1398 V1417 M1128,1398 V1417 M999,1417 V1409 H1039 V1417" class="g"/>
<path d="M930,1417 V1455 M950,1417 V1455 M970,1417 V1436 M990,1417 V1455 M1010,1417 V1455 M1030,1417 V1455 M1050,1417 V1455 M1070,1417 V1455 M1090,1417 V1455 M1108,1417 V1455 M1128,1417 V1455 M955,1436 V1455 M1100,1436 V1455" class="g"/>
<text x="920" y="1412" class="m">1</text><text x="940" y="1412" class="m">2</text><text x="960" y="1412" class="m">3</text><text x="980" y="1412" class="m">4</text><text x="1058" y="1412" class="m">5</text><text x="1078" y="1412" class="m">6</text><text x="1098" y="1412" class="m">7</text><text x="1118" y="1412" class="m">8</text><text x="1138" y="1412" class="m">9</text>
<g style="font-size:12px"><text x="920" y="1431" class="m">10</text><text x="940" y="1431" class="m">11</text><text x="960" y="1431" class="m">12</text><text x="980" y="1431" class="m">13</text><text x="1000" y="1431" class="m">14</text><text x="1020" y="1431" class="m">15</text><text x="1040" y="1431" class="m">16</text><text x="1060" y="1431" class="m">17</text><text x="1080" y="1431" class="m">18</text><text x="1099" y="1431" class="m">19</text><text x="1118" y="1431" class="m">20</text><text x="1138" y="1431" class="m">21</text>
<text x="920" y="1450" class="m">22</text><text x="940" y="1450" class="m">23</text><text x="972" y="1450" class="m">24</text><text x="1000" y="1450" class="m">25</text><text x="1020" y="1450" class="m">26</text><text x="1040" y="1450" class="m">27</text><text x="1060" y="1450" class="m">28</text><text x="1080" y="1450" class="m">29</text><text x="1095" y="1450" class="m" style="font-size:11px">30</text><text x="1118" y="1450" class="m">31</text><text x="1138" y="1450" class="m">32</text></g>
</g>
<text x="1213" y="1537" style="font-size:17px;font-weight:normal">WI-03584</text>
</svg>
</body></html>
